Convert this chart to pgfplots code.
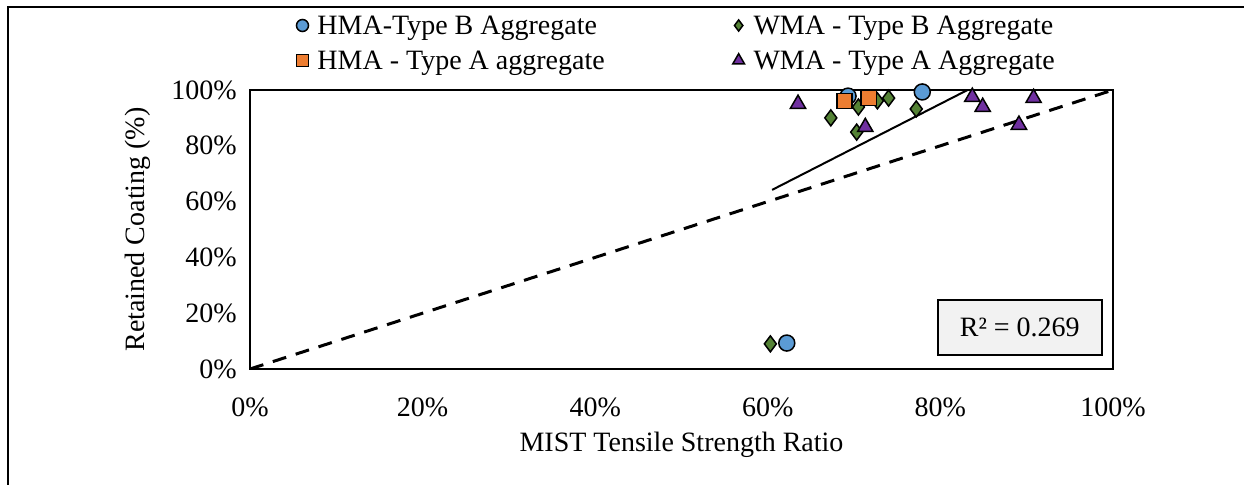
\documentclass[border=0pt]{standalone}
\usepackage{fontspec}
\setmainfont{Liberation Serif}
\usepackage{pgfplots}
\pgfplotsset{compat=1.18}
\definecolor{hmab}{HTML}{5B9BD5}
\definecolor{hmaa}{HTML}{ED7D31}
\definecolor{wmab}{HTML}{548235}
\definecolor{wmaa}{HTML}{7030A0}
% smaller marker in the legend than in the plot
\pgfplotsset{legmark/.style={legend image code/.code={\draw[##1, mark size=#1] plot coordinates {(0pt,1pt)};}}}
\begin{document}
\fontsize{14}{16.8}\selectfont
\begin{tikzpicture}[font=\fontsize{14}{16.8}\selectfont]
\useasboundingbox (0,0) rectangle (622pt,242.5pt);
% outer frame (only top and left edges show)
\draw[line width=1pt] (4pt,0) -- (4pt,239pt) -- (622pt,239pt);
\begin{axis}[
    at={(125pt,58pt)}, anchor=south west,
    scale only axis,
    width=431.5pt, height=139.5pt,
    xmin=0, xmax=1, ymin=0, ymax=1,
    axis line style={line width=1pt},
    tick style={draw=none},
    xtick={0,0.2,0.4,0.6,0.8,1},
    xticklabels={0\%,20\%,40\%,60\%,80\%,100\%},
    ytick={0,0.2,0.4,0.6,0.8,1},
    yticklabels={0\%,20\%,40\%,60\%,80\%,100\%},
    xticklabel style={anchor=north, inner sep=0pt, yshift=-14pt},
    yticklabel style={anchor=east, inner sep=0pt, xshift=-6.5pt},
    xlabel={MIST Tensile Strength Ratio},
    ylabel={Retained Coating (\%)},
    x label style={at={(axis description cs:0.5,-0.2724)}, anchor=center},
    y label style={at={(axis description cs:-0.1298,0.5)}, anchor=center, rotate=0},
    clip mode=individual,
    legend columns=2,
    legend cell align=left,
    legend style={at={(0.0534,1.272)}, anchor=north west, draw=none, fill=none,
        inner sep=0pt, row sep=4.5pt,
        nodes={inner sep=0pt, text height=10pt, text depth=3pt},
        /tikz/column 1/.style={column sep=4.5pt},
        /tikz/column 2/.style={column sep=64pt},
        /tikz/column 3/.style={column sep=4.5pt}},
    every axis plot/.append style={line width=0.75pt},
]
% equality line
\addplot[forget plot, black, line width=1.5pt, dash pattern=on 7pt off 5pt] coordinates {(0,0) (1,1)};
% linear trend line
\addplot[forget plot, black, line width=1pt] coordinates {(0.605,0.642) (0.908,1.121)};

\addplot[only marks, mark=*, mark size=4pt, draw=black, fill=hmab, legmark=3pt] coordinates {
(0.693,0.978) (0.779,0.993) (0.622,0.093)};
\addlegendentry{HMA-Type B Aggregate}
\addplot[only marks, mark=diamond*, mark size=4pt, draw=black, fill=wmab, legmark=2.8pt] coordinates {
(0.705,0.939) (0.727,0.961) (0.740,0.971) (0.772,0.932) (0.673,0.900) (0.703,0.849) (0.603,0.090)};
\addlegendentry{WMA - Type B Aggregate}
\addplot[only marks, mark=square*, mark size=3.8pt, draw=black, fill=hmaa, legmark=3pt] coordinates {
(0.689,0.961) (0.717,0.971)};
\addlegendentry{HMA - Type A aggregate}
\addplot[only marks, mark=triangle*, mark size=4.4pt, draw=black, fill=wmaa, legmark=3.4pt] coordinates {
(0.635,0.950) (0.713,0.867) (0.837,0.975) (0.849,0.939) (0.908,0.971) (0.891,0.875)};
\addlegendentry{WMA - Type A Aggregate}

\node[draw, line width=1pt, fill=gray!10, minimum width=82pt, minimum height=27.5pt]
    at (axis cs:0.892,0.149) {R² = 0.269};
\end{axis}
\end{tikzpicture}
\end{document}
